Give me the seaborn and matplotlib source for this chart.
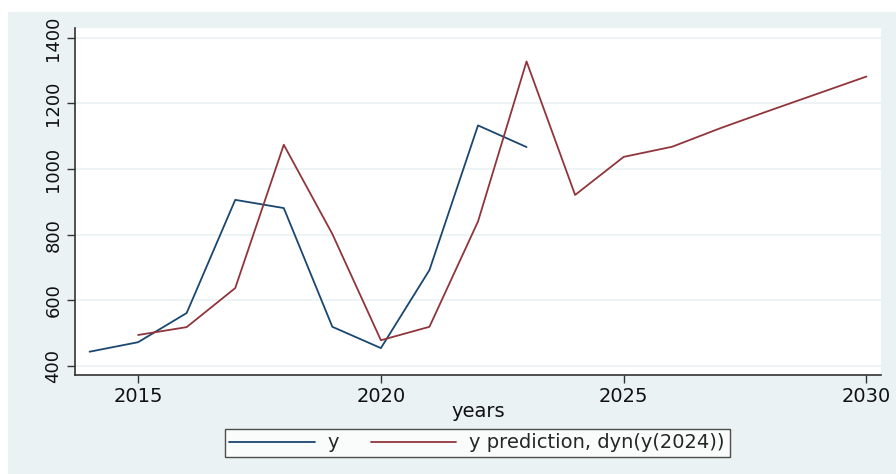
"""Observed series vs dynamic prediction, Stata-like look."""

import pandas as pd
import matplotlib.pyplot as plt
import seaborn as sns
from matplotlib.patches import Rectangle

# observed values
years_obs = [2014, 2015, 2016, 2017, 2018, 2019, 2020, 2021, 2022, 2023]
y_obs = [443, 472, 561, 906, 881, 519, 454, 692, 1133, 1067]

# dynamic prediction from 2024
years_pred = [2015, 2016, 2017, 2018, 2019, 2020, 2021, 2022, 2023,
              2024, 2025, 2026, 2027, 2028, 2029, 2030]
y_pred = [494, 518, 637, 1074, 802, 478, 519, 840, 1328,
          921, 1037, 1068, 1125, 1178, 1230, 1282]

x_ticks = [2015, 2020, 2025, 2030]
y_ticks = [400, 600, 800, 1000, 1200, 1400]

BLUE = "#1a476f"
RED = "#90353b"
BG = "#eaf2f3"

obs_df = pd.DataFrame({"years": years_obs, "y": y_obs})
pred_df = pd.DataFrame({"years": years_pred, "y": y_pred})

sns.set_theme(style="white")
plt.rcParams["font.family"] = ["DejaVu Sans"]

fig = plt.figure(figsize=(8.96, 4.74), dpi=100)
fig.patch.set_facecolor("white")
# light panel behind everything (the outer graph region)
fig.patches.append(Rectangle((8 / 896, 0), 1, 462 / 474, transform=fig.transFigure,
                             facecolor=BG, edgecolor="none", zorder=-10))

ax = fig.add_axes([75 / 896, 1 - 375 / 474, (881 - 75) / 896, (375 - 28) / 474])
ax.set_facecolor("white")

sns.lineplot(data=obs_df, x="years", y="y", ax=ax, color=BLUE, lw=1.3, label="y")
sns.lineplot(data=pred_df, x="years", y="y", ax=ax, color=RED, lw=1.3,
             label="y prediction, dyn(y(2024))")

ax.set_xlim(2013.7, 2030.3)
ax.set_ylim(372, 1430)
ax.set_xticks(x_ticks)
ax.set_yticks(y_ticks)
ax.yaxis.grid(True, color=BG, lw=1.2)
ax.set_axisbelow(True)

for side in ("top", "right"):
    ax.spines[side].set_visible(False)
for side in ("left", "bottom"):
    ax.spines[side].set_color("#333333")
    ax.spines[side].set_linewidth(1.2)

ax.tick_params(axis="both", direction="out", length=6, width=1, color="#333333",
               labelcolor="#111111", pad=3, left=True, bottom=True)
ax.tick_params(axis="x", labelsize=14)
ax.tick_params(axis="y", labelsize=13)
plt.setp(ax.get_yticklabels(), rotation=90, va="center")

ax.set_xlabel("years", fontsize=14, color="#111111", labelpad=-3)
ax.set_ylabel("")

leg = ax.legend(loc="center", bbox_to_anchor=(477 / 896, 1 - 443 / 474),
                bbox_transform=fig.transFigure, ncol=2, fontsize=14,
                frameon=True, fancybox=False, handlelength=4.4,
                columnspacing=1.6, borderpad=0.25, handletextpad=0.67)
leg.get_frame().set_edgecolor("#222222")
leg.get_frame().set_linewidth(1.0)
leg.get_frame().set_facecolor("white")
for line in leg.get_lines():
    line.set_linewidth(1.3)

fig.savefig("out.png", dpi=100)
